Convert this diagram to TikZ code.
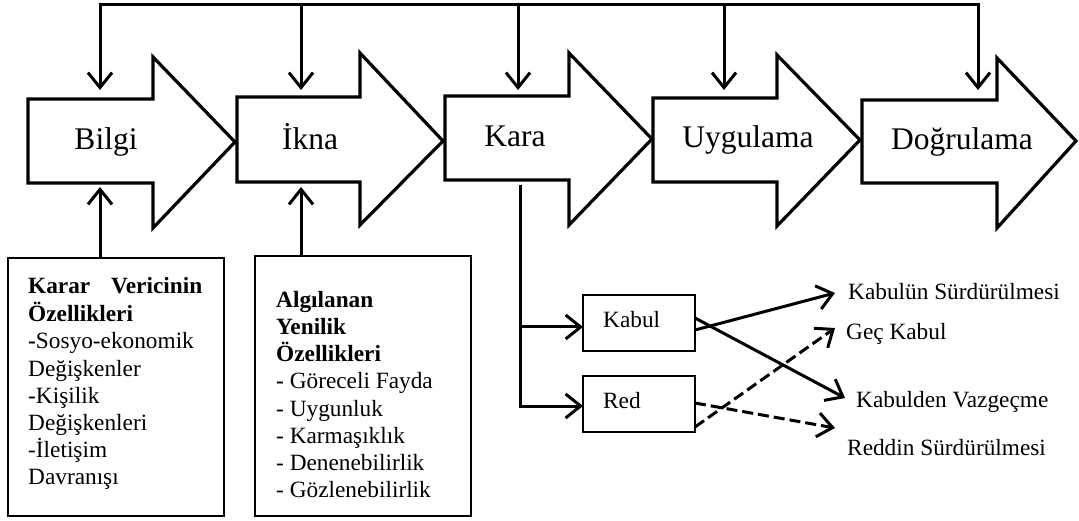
\documentclass[tikz,border=0pt]{standalone}
\usepackage{fontspec}
\setmainfont{Liberation Serif}
\usetikzlibrary{arrows.meta}

% block arrow: left x, head base x, tip x, body top, body bottom, head top, head bottom, tip y
\newcommand\stagearrow[8]{%
  \draw[stage] (#1,#4) -- (#2,#4) -- (#2,#6) -- (#3,#8) -- (#2,#7) -- (#2,#5) -- (#1,#5) -- cycle;}

\begin{document}
\begin{tikzpicture}[x=1pt,y=-1pt,
  stage/.style={draw, line width=3.2pt, fill=white, line join=miter},
  stagelabel/.style={font=\fontsize{31.5}{38}\selectfont, inner sep=0pt, anchor=base},
  barbtip/.style={-{Straight Barb[length=15pt,width=24pt]}},
  conn/.style={line width=3pt, barbtip},
  plainline/.style={line width=3pt},
  dashconn/.style={line width=3pt, barbtip, dash pattern=on 11pt off 5pt},
  infobox/.style={draw, line width=2.4pt, inner sep=0pt},
  choicebox/.style={draw, line width=1.4pt, inner sep=0pt, minimum width=112pt, minimum height=56pt},
  smalltext/.style={font=\fontsize{23.3}{27.2}\selectfont, inner sep=0pt},
]
\useasboundingbox (0,0) rectangle (1079,521);

% stages of the decision process
\stagearrow{28}{153}{235}{99}{183}{57}{228}{142}
\stagearrow{237}{360}{443}{97}{182}{53}{225}{141}
\stagearrow{445}{569}{652}{96}{180}{53}{225}{139}
\stagearrow{653}{777}{860}{98}{182}{55}{226}{140}
\stagearrow{862}{997}{1076}{100}{183}{58}{228}{141}

\node[stagelabel] (bilgi) at (106,150) {Bilgi};
\node[stagelabel] (ikna)  at (310,150) {İkna};
\node[stagelabel] (kara)  at (515,147) {Kara};
\node[stagelabel] (uyg)   at (748,148) {Uygulama};
\node[stagelabel] (dog)   at (962,150) {Doğrulama};

% feedback line along the top
\coordinate (top1) at (100,5);
\coordinate (top2) at (301,5);
\coordinate (top3) at (518,5);
\coordinate (top4) at (724,5);
\coordinate (top5) at (978,5);
\coordinate (bilgiIn) at (100,90);
\coordinate (iknaIn)  at (301,90);
\coordinate (karaIn)  at (518,90);
\coordinate (uygIn)   at (724,90);
\coordinate (dogIn)   at (978,90);
\draw[plainline, line cap=rect] (top1) -- (top5);
\draw[conn] (top1) -- (bilgiIn);
\draw[conn] (top2) -- (iknaIn);
\draw[conn] (top3) -- (karaIn);
\draw[conn] (top4) -- (uygIn);
\draw[conn] (top5) -- (dogIn);

% prior conditions
\node[infobox, minimum width=216pt, minimum height=258pt] (kv) at (116,387) {};
\node[infobox, minimum width=216pt, minimum height=260pt] (ay) at (363,386) {};
\node[smalltext, anchor=north west, align=left] (kvtext) at (28,273.96)
  {\strut\makebox[174pt][s]{\bfseries Karar\hfill Vericinin}\\
   \textbf{Özellikleri}\\
   \textbf{-}Sosyo-ekonomik\\
   Değişkenler\\
   -Kişilik\\
   Değişkenleri\\
   -İletişim\\
   Davranışı};
\node[smalltext, anchor=north west, align=left] (aytext) at (276,287.96)
  {\strut\textbf{Algılanan}\\
   \textbf{Yenilik}\\
   \textbf{Özellikleri}\\
   \textbf{-} Göreceli Fayda\\
   - Uygunluk\\
   - Karmaşıklık\\
   - Denenebilirlik\\
   - Gözlenebilirlik};
\coordinate (bilgiUp) at (100,187);
\coordinate (iknaUp)  at (301,187);
\draw[conn] (kv.north -| bilgiUp) -- (bilgiUp);
\draw[conn] (ay.north -| iknaUp) -- (iknaUp);

% decision branches
\node[choicebox] (kabul) at (639,323) {};
\node[choicebox] (red)   at (639,404) {};
\node[smalltext, anchor=base west] (kabulT) at (603,327) {Kabul};
\node[smalltext, anchor=base west] (redT)   at (603,408) {Red};
\coordinate (karaOut) at (520,185);
\coordinate (karaEnd) at (520,407.5);
\coordinate (kabulIn) at (583,327);
\coordinate (redIn)   at (583,406);
\draw[plainline] (karaOut) -- (karaEnd);
\draw[conn] (karaOut |- kabulIn) -- (kabulIn);
\draw[conn] (karaOut |- redIn) -- (redIn);

% outcomes
\node[smalltext, anchor=base west] (ks) at (848,300) {Kabulün Sürdürülmesi};
\node[smalltext, anchor=base west] (gk) at (846,340) {Geç Kabul};
\node[smalltext, anchor=base west] (kvz) at (856,407) {Kabulden Vazgeçme};
\node[smalltext, anchor=base west] (rs) at (847,455) {Reddin Sürdürülmesi};
\coordinate (kabulHi) at (695,318);
\coordinate (kabulLo) at (695,330);
\coordinate (redHi)   at (695,403);
\coordinate (redLo)   at (695,427);
\coordinate (ksTip)  at (835,293);
\coordinate (gkTip)  at (835,328);
\coordinate (kvzTip) at (845,398);
\coordinate (rsTip)  at (835,428);
\draw[conn] (kabulLo) -- (ksTip);
\draw[conn] (kabulHi) -- (kvzTip);
\draw[dashconn] (redHi) -- (rsTip);
\draw[dashconn] (redLo) -- (gkTip);
\end{tikzpicture}
\end{document}
